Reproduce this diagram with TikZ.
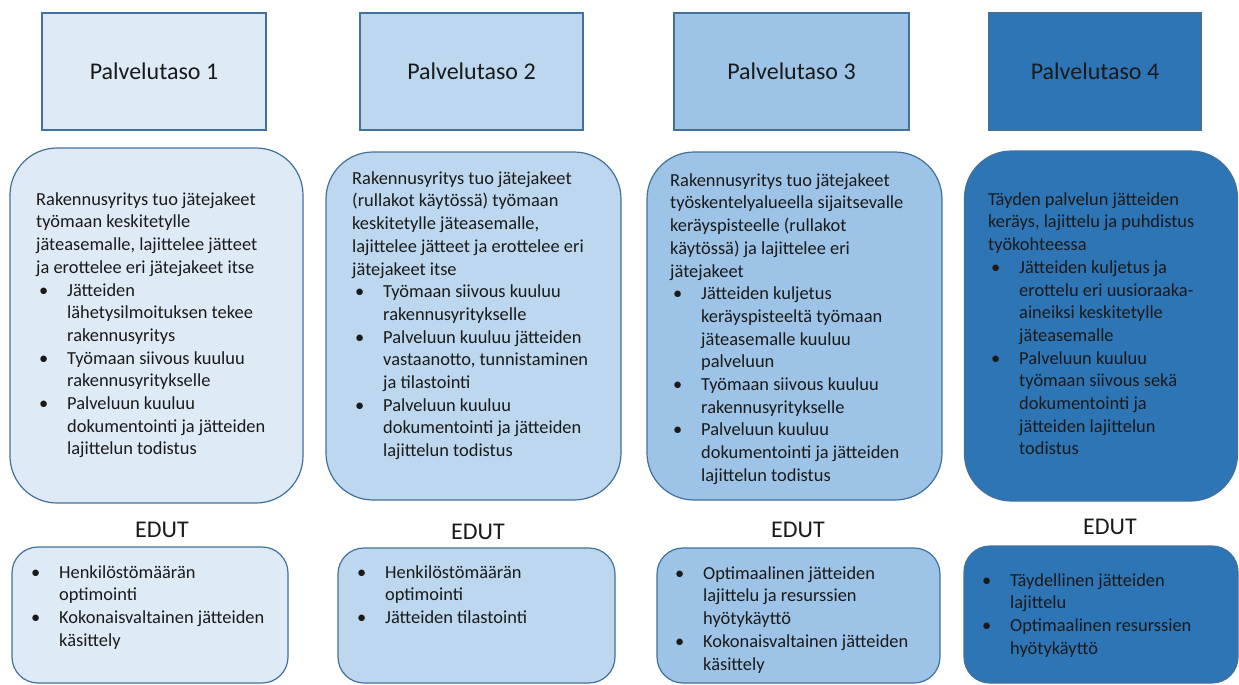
\documentclass[tikz,border=0pt]{standalone}
\usepackage{fontspec}
\setmainfont{Carlito}
\definecolor{c1}{HTML}{DEEBF7}
\definecolor{c2}{HTML}{BDD7EE}
\definecolor{c3}{HTML}{9DC3E6}
\definecolor{c4}{HTML}{2E75B6}
\definecolor{bord}{HTML}{41719C}
\definecolor{ink}{HTML}{1A1A1A}
\newcommand{\myb}{\makebox[31pt][l]{\hspace{3pt}\textbullet}}
\newcommand{\myc}{\hspace*{31pt}}
\newcommand{\myst}{\rule{0pt}{16pt}}
\tikzset{
  box/.style={draw=bord, line width=1.2pt, inner sep=0pt, outer sep=0pt},
  topbox/.style={box, rectangle, text=ink, font=\fontsize{24}{29}\selectfont},
  midbox/.style={box, rectangle, rounded corners=47pt},
  lowbox/.style={box, rectangle, rounded corners=26pt},
  txt/.style={anchor=north west, inner sep=0pt, align=left, text=ink, font=\fontsize{18.4}{22.7}\selectfont},
  edut/.style={text=ink, inner sep=0pt, font=\fontsize{24}{29}\selectfont},
}
\begin{document}
\begin{tikzpicture}[x=1pt, y=-1pt]
\useasboundingbox (0,0) rectangle (1239,685);
% top boxes
\node[topbox, fill=c1, minimum width=224pt, minimum height=117pt] (t1) at (154,71.5) {Palvelutaso 1};
\node[topbox, fill=c2, minimum width=223pt, minimum height=117pt] (t2) at (471.5,71.5) {Palvelutaso 2};
\node[topbox, fill=c3, minimum width=235pt, minimum height=117pt] (t3) at (791.5,71.5) {Palvelutaso 3};
\node[topbox, fill=c4, minimum width=212pt, minimum height=117pt] (t4) at (1095,71.5) {Palvelutaso 4};
% middle boxes
\node[midbox, fill=c1, minimum width=293pt, minimum height=355pt] (m1) at (156.5,325.5) {};
\node[midbox, fill=c2, minimum width=295pt, minimum height=348pt] (m2) at (473.5,326) {};
\node[midbox, fill=c3, minimum width=295pt, minimum height=348pt] (m3) at (794.5,326) {};
\node[midbox, fill=c4, minimum width=273pt, minimum height=350pt] (m4) at (1101,326) {};
% middle texts
\node[txt] (x1) at (36,189) {\myst Rakennusyritys tuo jätejakeet\\
työmaan keskitetylle\\
jäteasemalle, lajittelee jätteet\\
ja erottelee eri jätejakeet itse\\
\myb Jätteiden\\
\myc lähetysilmoituksen tekee\\
\myc rakennusyritys\\
\myb Työmaan siivous kuuluu\\
\myc rakennusyritykselle\\
\myb Palveluun kuuluu\\
\myc dokumentointi ja jätteiden\\
\myc lajittelun todistus};
\node[txt] (x2) at (352,168) {\myst Rakennusyritys tuo jätejakeet\\
(rullakot käytössä) työmaan\\
keskitetylle jäteasemalle,\\
lajittelee jätteet ja erottelee eri\\
jätejakeet itse\\
\myb Työmaan siivous kuuluu\\
\myc rakennusyritykselle\\
\myb Palveluun kuuluu jätteiden\\
\myc vastaanotto, tunnistaminen\\
\myc ja tilastointi\\
\myb Palveluun kuuluu\\
\myc dokumentointi ja jätteiden\\
\myc lajittelun todistus};
\node[txt] (x3) at (670,170) {\myst Rakennusyritys tuo jätejakeet\\
työskentelyalueella sijaitsevalle\\
keräyspisteelle (rullakot\\
käytössä) ja lajittelee eri\\
jätejakeet\\
\myb Jätteiden kuljetus\\
\myc keräyspisteeltä työmaan\\
\myc jäteasemalle kuuluu\\
\myc palveluun\\
\myb Työmaan siivous kuuluu\\
\myc rakennusyritykselle\\
\myb Palveluun kuuluu\\
\myc dokumentointi ja jätteiden\\
\myc lajittelun todistus};
\node[txt] (x4) at (988,189) {\myst Täyden palvelun jätteiden\\
keräys, lajittelu ja puhdistus\\
työkohteessa\\
\myb Jätteiden kuljetus ja\\
\myc erottelu eri uusioraaka-\\
\myc aineiksi keskitetylle\\
\myc jäteasemalle\\
\myb Palveluun kuuluu\\
\myc työmaan siivous sekä\\
\myc dokumentointi ja\\
\myc jätteiden lajittelun\\
\myc todistus};
% EDUT labels
\node[edut] (e1) at (162,530) {EDUT};
\node[edut] (e2) at (478,532) {EDUT};
\node[edut] (e3) at (798,530) {EDUT};
\node[edut] (e4) at (1110,527) {EDUT};
% bottom boxes
\node[lowbox, fill=c1, minimum width=276pt, minimum height=136pt] (b1) at (150,615) {};
\node[lowbox, fill=c2, minimum width=277pt, minimum height=135pt] (b2) at (476.5,615.5) {};
\node[lowbox, fill=c3, minimum width=283pt, minimum height=135pt] (b3) at (798.5,615.5) {};
\node[lowbox, fill=c4, minimum width=274pt, minimum height=137pt] (b4) at (1101,614.5) {};
% bottom texts
\node[txt] (y1) at (28,562) {\myst\myb Henkilöstömäärän\\
\myc optimointi\\
\myb Kokonaisvaltainen jätteiden\\
\myc käsittely};
\node[txt] (y2) at (354,562) {\myst\myb Henkilöstömäärän\\
\myc optimointi\\
\myb Jätteiden tilastointi};
\node[txt] (y3) at (672,563) {\myst\myb Optimaalinen jätteiden\\
\myc lajittelu ja resurssien\\
\myc hyötykäyttö\\
\myb Kokonaisvaltainen jätteiden\\
\myc käsittely};
\node[txt] (y4) at (979,570) {\myst\myb Täydellinen jätteiden\\
\myc lajittelu\\
\myb Optimaalinen resurssien\\
\myc hyötykäyttö};
\end{tikzpicture}
\end{document}
